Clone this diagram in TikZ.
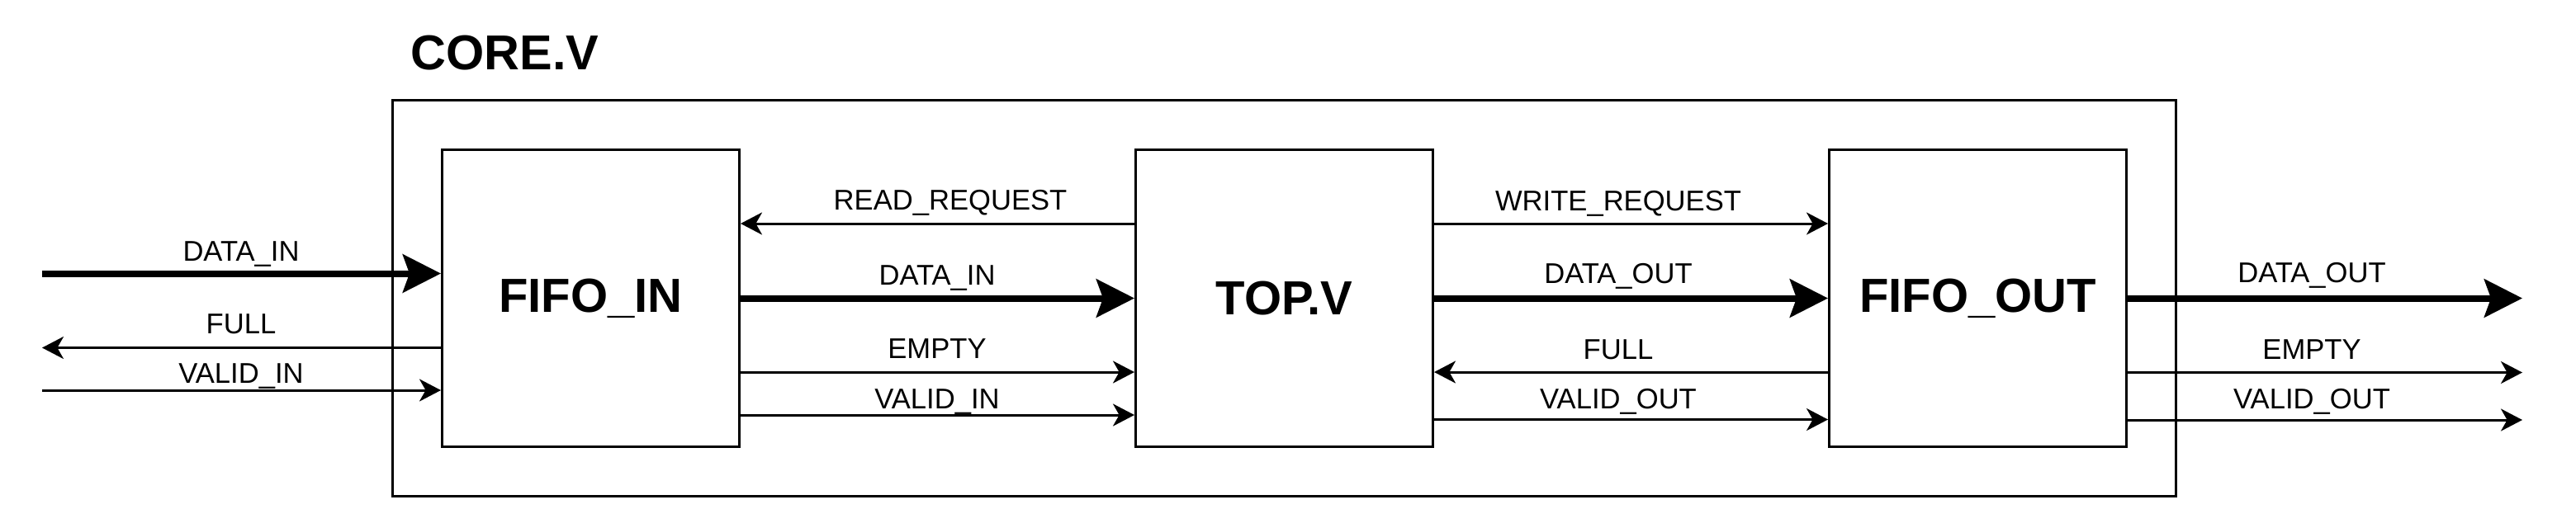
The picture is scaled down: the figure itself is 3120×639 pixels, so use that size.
\documentclass[tikz,border=0pt]{standalone}
\usepackage{fontspec}
\setmainfont{Liberation Sans}
\usetikzlibrary{arrows.meta}
\tikzset{
  blockbox/.style={draw, line width=1.5pt, minimum width=180pt, minimum height=180pt, inner sep=0pt,
    font=\fontsize{29}{34}\selectfont\bfseries},
  corebox/.style={draw, line width=1.5pt, minimum width=1080pt, minimum height=240pt, inner sep=0pt},
  lab/.style={anchor=base, inner sep=0pt, font=\fontsize{17.3}{20}\selectfont},
  sig/.style={line width=1.5pt, -{Stealth[length=13pt, width=13.5pt, inset=3.8pt]}},
  bus/.style={line width=4pt, -{Stealth[length=23pt, width=23pt, inset=4pt]}},
}
\begin{document}
\begin{tikzpicture}[x=0.5pt, y=-0.5pt]
\useasboundingbox (0,0) rectangle (3120,639);
% container
\node[corebox] (core) at (1555,361) {};
\node[anchor=base west, inner sep=0pt, font=\fontsize{29.7}{34}\selectfont\bfseries] (coretitle) at (497,84) {CORE.V};
% blocks
\node[blockbox] (fin) at (715.5,361.5) {FIFO\_IN};
\node[blockbox] (top) at (1555.5,361.5) {TOP.V};
\node[blockbox] (fout) at (2395.5,361.5) {FIFO\_OUT};
% free ends
\coordinate (inD) at (51,331.5);
\coordinate (inF) at (51,421.5);
\coordinate (inV) at (51,473);
\coordinate (outD) at (3055,361.5);
\coordinate (outE) at (3055,451.5);
\coordinate (outV) at (3055,509);
% left side
\draw[bus] (inD) -- (fin.west |- inD);
\draw[sig] (fin.west |- inF) -- (inF);
\draw[sig] (inV) -- (fin.west |- inV);
\node[lab] (lDin) at (292,316) {DATA\_IN};
\node[lab] (lFull) at (292,404.6) {FULL};
\node[lab] (lVin) at (292,464.5) {VALID\_IN};
% FIFO_IN <-> TOP
\draw[sig] (top.west |- 0,271) -- (fin.east |- 0,271);
\draw[bus] (fin.east) -- (top.west);
\draw[sig] (fin.east |- 0,451) -- (top.west |- 0,451);
\draw[sig] (fin.east |- 0,503) -- (top.west |- 0,503);
\node[lab] (mRR) at (1151,254) {READ\_REQUEST};
\node[lab] (mDin) at (1135,345) {DATA\_IN};
\node[lab] (mEmp) at (1135,434) {EMPTY};
\node[lab] (mVin) at (1135,495) {VALID\_IN};
% TOP <-> FIFO_OUT
\draw[sig] (top.east |- 0,271) -- (fout.west |- 0,271);
\draw[bus] (top.east) -- (fout.west);
\draw[sig] (fout.west |- 0,451) -- (top.east |- 0,451);
\draw[sig] (top.east |- 0,508.5) -- (fout.west |- 0,508.5);
\node[lab] (mWR) at (1960,255) {WRITE\_REQUEST};
\node[lab] (mDout) at (1960,343) {DATA\_OUT};
\node[lab] (mFull) at (1960,435) {FULL};
\node[lab] (mVout) at (1960,495) {VALID\_OUT};
% right side
\draw[bus] (fout.east |- outD) -- (outD);
\draw[sig] (fout.east |- outE) -- (outE);
\draw[sig] (fout.east |- outV) -- (outV);
\node[lab] (rDout) at (2800,342) {DATA\_OUT};
\node[lab] (rEmp) at (2800,435) {EMPTY};
\node[lab] (rVout) at (2800,495) {VALID\_OUT};
\end{tikzpicture}
\end{document}
